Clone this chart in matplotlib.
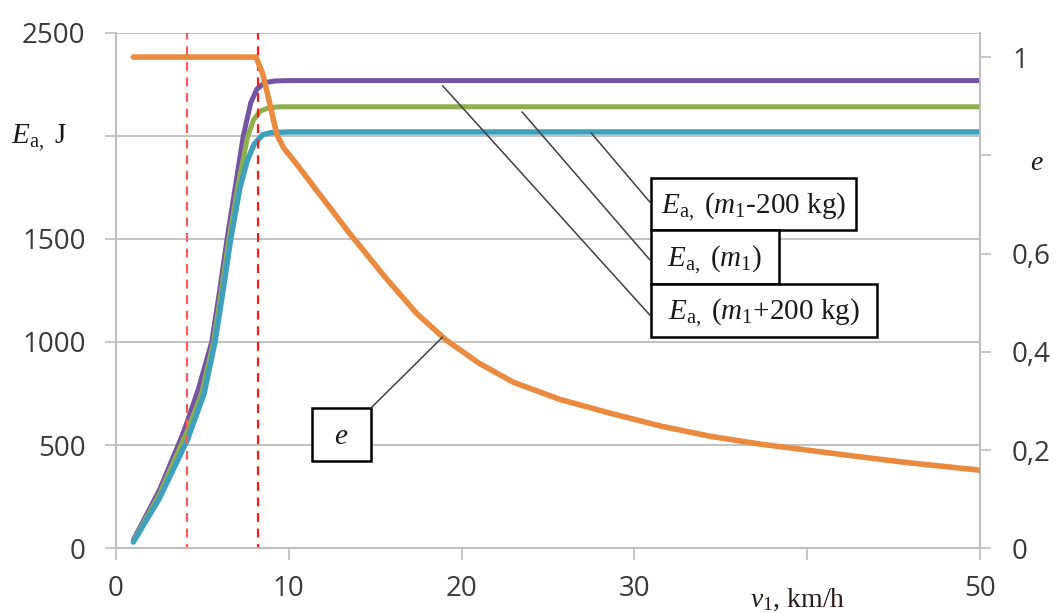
import matplotlib
matplotlib.use("Agg")
import matplotlib.pyplot as plt
from matplotlib.patches import Rectangle

# ---------------- data ----------------
x_plus = [1, 2.5, 3.8, 4.13, 4.76, 5.54, 6.0, 6.43, 6.9, 7.37, 7.8, 8.15, 8.6, 9.2, 10, 50]
E_plus = [40, 280, 540, 615, 770, 1000, 1250, 1500, 1750, 2000, 2160, 2225, 2257, 2265,
          2267, 2267]

x_m1 = [1, 2.5, 4.13, 4.95, 5.64, 6.1, 6.54, 7.05, 7.6, 7.95, 8.35, 8.9, 9.5, 50]
E_m1 = [35, 260, 570, 750, 1000, 1250, 1500, 1750, 1990, 2075, 2120, 2136, 2140, 2140]

x_minus = [1, 2.5, 4.13, 5.1, 5.73, 6.2, 6.64, 7.18, 7.6, 8.0, 8.5, 9.0, 10, 50]
E_minus = [30, 240, 525, 750, 1000, 1250, 1500, 1750, 1880, 1960, 2005, 2015, 2018, 2018]

x_e = [1, 8.1, 8.5, 8.9, 9.3, 9.7, 10.5, 11.6, 12.5, 13.5, 15.5, 17.4, 19.1, 21, 23,
       25.7, 28.6, 31.5, 34.4, 37.3, 40.2, 43.1, 45.9, 50]
e_vals = [1.0, 1.0, 0.965, 0.905, 0.843, 0.815, 0.780, 0.729, 0.688, 0.642, 0.555,
          0.478, 0.424, 0.377, 0.338, 0.303, 0.275, 0.249, 0.228, 0.212, 0.199, 0.186,
          0.174, 0.159]

v_marks = [4.13, 8.24]

x_ticks = [0, 10, 20, 30, 40, 50]
x_ticklabels = ["0", "10", "20", "30", "", "50"]
yl_ticks = [0, 500, 1000, 1500, 2000, 2500]
yl_ticklabels = ["0", "500", "1000", "1500", "", "2500"]
yr_ticks = [0, 0.2, 0.4, 0.6, 0.8, 1.0]
yr_ticklabels = ["0", "0,2", "0,4", "0,6", "", "1"]

label_plus = r"$E_{\mathrm{a,}}$ ($m_{\mathrm{1}}$+200 kg)"
label_m1 = r"$E_{\mathrm{a,}}$ ($m_{\mathrm{1}}$)"
label_minus = r"$E_{\mathrm{a,}}$ ($m_{\mathrm{1}}$-200 kg)"

# ---------------- style ----------------
plt.rcParams["mathtext.fontset"] = "custom"
plt.rcParams["mathtext.rm"] = "Liberation Serif"
plt.rcParams["mathtext.it"] = "Liberation Serif:italic"
plt.rcParams["mathtext.bf"] = "Liberation Serif:bold"

c_purple = "#7353A3"
c_green = "#8FAE4E"
c_teal = "#3FA0BE"
c_orange = "#EA8A3E"
c_grid = "#BDBDBD"
c_tick = "#3A3A3A"

fig = plt.figure(figsize=(10.56, 6.13), dpi=100)
ax = fig.add_axes([116 / 1056, 1 - 548.3 / 613, 864 / 1056, 515.8 / 613])
ax2 = ax.twinx()

ax.plot(x_plus, E_plus, color=c_purple, lw=3.6, solid_capstyle="round",
        solid_joinstyle="round", zorder=3)
ax.plot(x_m1, E_m1, color=c_green, lw=3.6, solid_capstyle="round",
        solid_joinstyle="round", zorder=3)
ax.plot(x_minus, E_minus, color=c_teal, lw=3.9, solid_capstyle="round",
        solid_joinstyle="round", zorder=3)
for i, xv in enumerate(v_marks):
    ax.axvline(xv, color="#FF5A5A" if i == 0 else "#FF1A1A", lw=1.6,
               dashes=(4, 3), zorder=4, ymin=-0.01, ymax=1)

ax2.plot(x_e, e_vals, color=c_orange, lw=4.0, solid_capstyle="round",
         solid_joinstyle="round", zorder=3)

ax.set_xlim(0, 50)
ax.set_ylim(0, 2500)
ax2.set_ylim(0, 1.05)

ax.set_xticks(x_ticks)
ax.set_xticklabels(x_ticklabels)
ax.set_yticks(yl_ticks)
ax.set_yticklabels(yl_ticklabels)
ax2.set_yticks(yr_ticks)
ax2.set_yticklabels(yr_ticklabels)

for lab in ax.get_xticklabels() + ax.get_yticklabels() + ax2.get_yticklabels():
    lab.set_fontfamily("Open Sans")
    lab.set_fontsize(20)
    lab.set_color(c_tick)

ax.tick_params(axis="x", direction="out", length=8.5, width=1.2, color=c_grid, pad=11)
ax.tick_params(axis="y", direction="out", length=8, width=1.2, color=c_grid, pad=14)
ax2.tick_params(axis="y", direction="out", length=8, width=1.2, color=c_grid, pad=15)

ax.yaxis.grid(True, color=c_grid, lw=1.3)
ax.set_axisbelow(True)

for a in (ax, ax2):
    a.spines["top"].set_visible(False)
    for s in ("left", "right", "bottom"):
        a.spines[s].set_color(c_grid)
        a.spines[s].set_linewidth(1.3)

# axis titles
ax.text(-0.089, 0.785, r"$E_{\mathrm{a,}}$ J", transform=ax.transAxes,
        ha="center", va="baseline", fontsize=21, family="Liberation Serif",
        color="#1a1a1a")
ax.text(1.066, 0.733, r"$e$", transform=ax.transAxes, ha="center", va="baseline",
        fontsize=20, color="#1a1a1a")
ax.text(0.789, -0.114, r"$v_{\mathrm{1}}$, km/h", transform=ax.transAxes,
        ha="center", va="baseline", fontsize=20, family="Liberation Serif",
        color="#2a1a1a")

# label boxes (axes fraction)
boxes = [
    (0.619, 0.6171, 0.8565 - 0.619, 0.7179 - 0.6171, label_minus),
    (0.619, 0.5124, 0.7674 - 0.619, 0.6171 - 0.5124, label_m1),
    (0.619, 0.4097, 0.8808 - 0.619, 0.5124 - 0.4097, label_plus),
    (0.2269, 0.1693, 0.2951 - 0.2269, 0.2720 - 0.1693, r"$e$"),
]
for (bx, by, bw, bh, txt) in boxes:
    ax.add_patch(Rectangle((bx, by), bw, bh, transform=ax.transAxes,
                           facecolor="white", edgecolor="black", lw=1.8,
                           zorder=6, clip_on=False))
    ax.text(bx + bw / 2, by + bh / 2 - 0.005, txt, transform=ax.transAxes,
            ha="center", va="center", fontsize=21, family="Liberation Serif",
            color="#1a1a1a", zorder=7)

# leader lines
lead = dict(arrowstyle="-", color="#404040", lw=1.1, shrinkA=0, shrinkB=0)
ax.annotate("", xy=(18.9, E_plus[-1] - 25), xycoords="data",
            xytext=(0.618, 0.452), textcoords="axes fraction", arrowprops=lead,
            zorder=5)
ax.annotate("", xy=(23.5, E_m1[-1] - 25), xycoords="data",
            xytext=(0.618, 0.559), textcoords="axes fraction", arrowprops=lead,
            zorder=5)
ax.annotate("", xy=(27.5, E_minus[-1] - 5), xycoords="data",
            xytext=(0.618, 0.671), textcoords="axes fraction", arrowprops=lead,
            zorder=5)
ax2.annotate("", xy=(18.9, 0.43), xycoords="data",
             xytext=(0.2951, 0.2720), textcoords="axes fraction", arrowprops=lead,
             zorder=5)

fig.savefig("out.png", dpi=100)
